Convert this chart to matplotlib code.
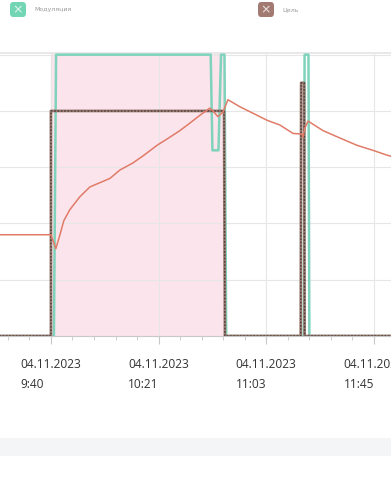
import matplotlib
matplotlib.use("Agg")
import matplotlib.pyplot as plt
import matplotlib.dates as mdates
from matplotlib.patches import FancyBboxPatch, Rectangle
from matplotlib.ticker import FixedLocator, FuncFormatter
from datetime import datetime

DAY = "2023-11-04 "

red_times = ["09:20:00", "09:40:00", "09:40:48", "09:41:54", "09:43:30", "09:45:00",
             "09:47:24", "09:51:12", "09:55:06", "10:02:48", "10:06:42", "10:11:42",
             "10:15:36", "10:21:24", "10:24:54", "10:29:54", "10:33:48", "10:37:42",
             "10:41:30", "10:42:42", "10:44:36", "10:46:36", "10:48:30", "10:53:06",
             "10:59:42", "11:03:36", "11:08:36", "11:13:42", "11:17:06", "11:17:30",
             "11:18:18", "11:19:30", "11:25:18", "11:31:48", "11:38:24", "11:44:36",
             "11:50:00", "11:52:00"]
red_values = [36, 36, 34, 31, 36, 41, 45, 49.5, 53, 56, 59, 61.5,
              64, 68, 70, 73, 75.7, 78.5, 81, 80, 78, 79.6, 84, 81.5,
              78.5, 76.7, 75, 72, 71.8, 70.7, 74, 76.4, 73, 70.4, 67.8, 66,
              64.3, 63.8]

mod_times = ["09:20:00", "09:41:10", "09:42:00", "10:41:50", "10:42:30", "10:44:50",
             "10:45:50", "10:47:10", "10:47:50", "11:17:50", "11:18:10", "11:19:40",
             "11:20:00", "11:52:00"]
mod_values = [0, 0, 100, 100, 66, 66, 100, 100, 0, 0, 100, 100, 0, 0]

goal_times = ["09:20:00", "09:40:00", "09:40:00", "10:47:00", "10:47:20", "11:16:40",
              "11:16:50", "11:18:00", "11:18:10", "11:52:00"]
goal_values = [0, 0, 80, 80, 0, 0, 90, 90, 0, 0]

span_start, span_end = "09:40:00", "10:47:00"


def to_dt(ts):
    return [datetime.strptime(DAY + t, "%Y-%m-%d %H:%M:%S") for t in ts]


fig = plt.figure(figsize=(3.91, 4.8), dpi=100)
ax = fig.add_axes([0, 1 - 336 / 480, 1, (336 - 53) / 480])

ax.axvspan(to_dt([span_start])[0], to_dt([span_end])[0], color="#fce4ec", zorder=0)

ax.plot(to_dt(mod_times), mod_values, color="#7fd3bc", lw=1.8, zorder=3)
gt = to_dt(goal_times)
ax.plot(gt, goal_values, color="#9a7b72", lw=2.0, zorder=4)
ax.plot(gt, goal_values, color="#4a3c38", lw=1.0, ls=(0, (1.2, 1.2)), zorder=5)
ax.plot(to_dt(red_times), red_values, color="#e07b68", lw=1.1, zorder=6)

ax.set_xlim(datetime(2023, 11, 4, 9, 20, 18), datetime(2023, 11, 4, 11, 51, 36))
ax.set_ylim(0, 100.6)

t0 = mdates.date2num(datetime(2023, 11, 4, 9, 40))
step = 2500 / 86400
ax.xaxis.set_major_locator(FixedLocator([t0 + i * step for i in range(-1, 5)]))
ax.xaxis.set_minor_locator(FixedLocator([t0 + i * step / 5 for i in range(-10, 25)]))


def fmt(x, pos):
    d = mdates.num2date(x)
    return d.strftime("%d.%m.%Y") + "\n" + str(d.hour) + d.strftime(":%M")


ax.xaxis.set_major_formatter(FuncFormatter(fmt))
ax.set_yticks([0, 20, 40, 60, 80, 100])
ax.tick_params(axis="y", left=False, labelleft=False)
ax.tick_params(axis="x", which="major", length=6, color="#c8c8c8", pad=10,
               labelsize=8.6, labelcolor="#333333")
ax.tick_params(axis="x", which="minor", length=3, color="#c8c8c8")
for lab in ax.get_xticklabels():
    lab.set_linespacing(1.7)
    lab.set_fontfamily("Open Sans")
    lab.set_multialignment("left")

ax.grid(True, which="major", color="#e6e6e6", lw=0.8, zorder=1)
ax.set_axisbelow(True)
for s in ["left", "right"]:
    ax.spines[s].set_visible(False)
ax.spines["top"].set_color("#e8e8e8")
ax.spines["top"].set_linewidth(1.4)
ax.spines["bottom"].set_color("#c8c8c8")

# legend remnants at the top
for x0, col, name in [(10, "#72d6b4", "Модуляция"), (258, "#a27a72", "Цель")]:
    box = FancyBboxPatch((x0 / 391, 1 - 17 / 480), 16 / 391, 15 / 480,
                         boxstyle="round,pad=0,rounding_size=0.008",
                         transform=fig.transFigure, facecolor=col, edgecolor="none")
    fig.patches.append(box)
    fig.text((x0 + 8) / 391, 1 - 9.5 / 480, "×", color="white", fontsize=9,
             ha="center", va="center", alpha=0.8)
    fig.text((x0 + 24) / 391, 1 - 9.5 / 480, name, color="#9a9a9a", fontsize=4.5,
             ha="left", va="center")

fig.patches.append(Rectangle((0, 1 - 456 / 480), 1, 18 / 480, transform=fig.transFigure,
                             facecolor="#f4f5f7", edgecolor="none"))

fig.savefig("out.png", dpi=100)
